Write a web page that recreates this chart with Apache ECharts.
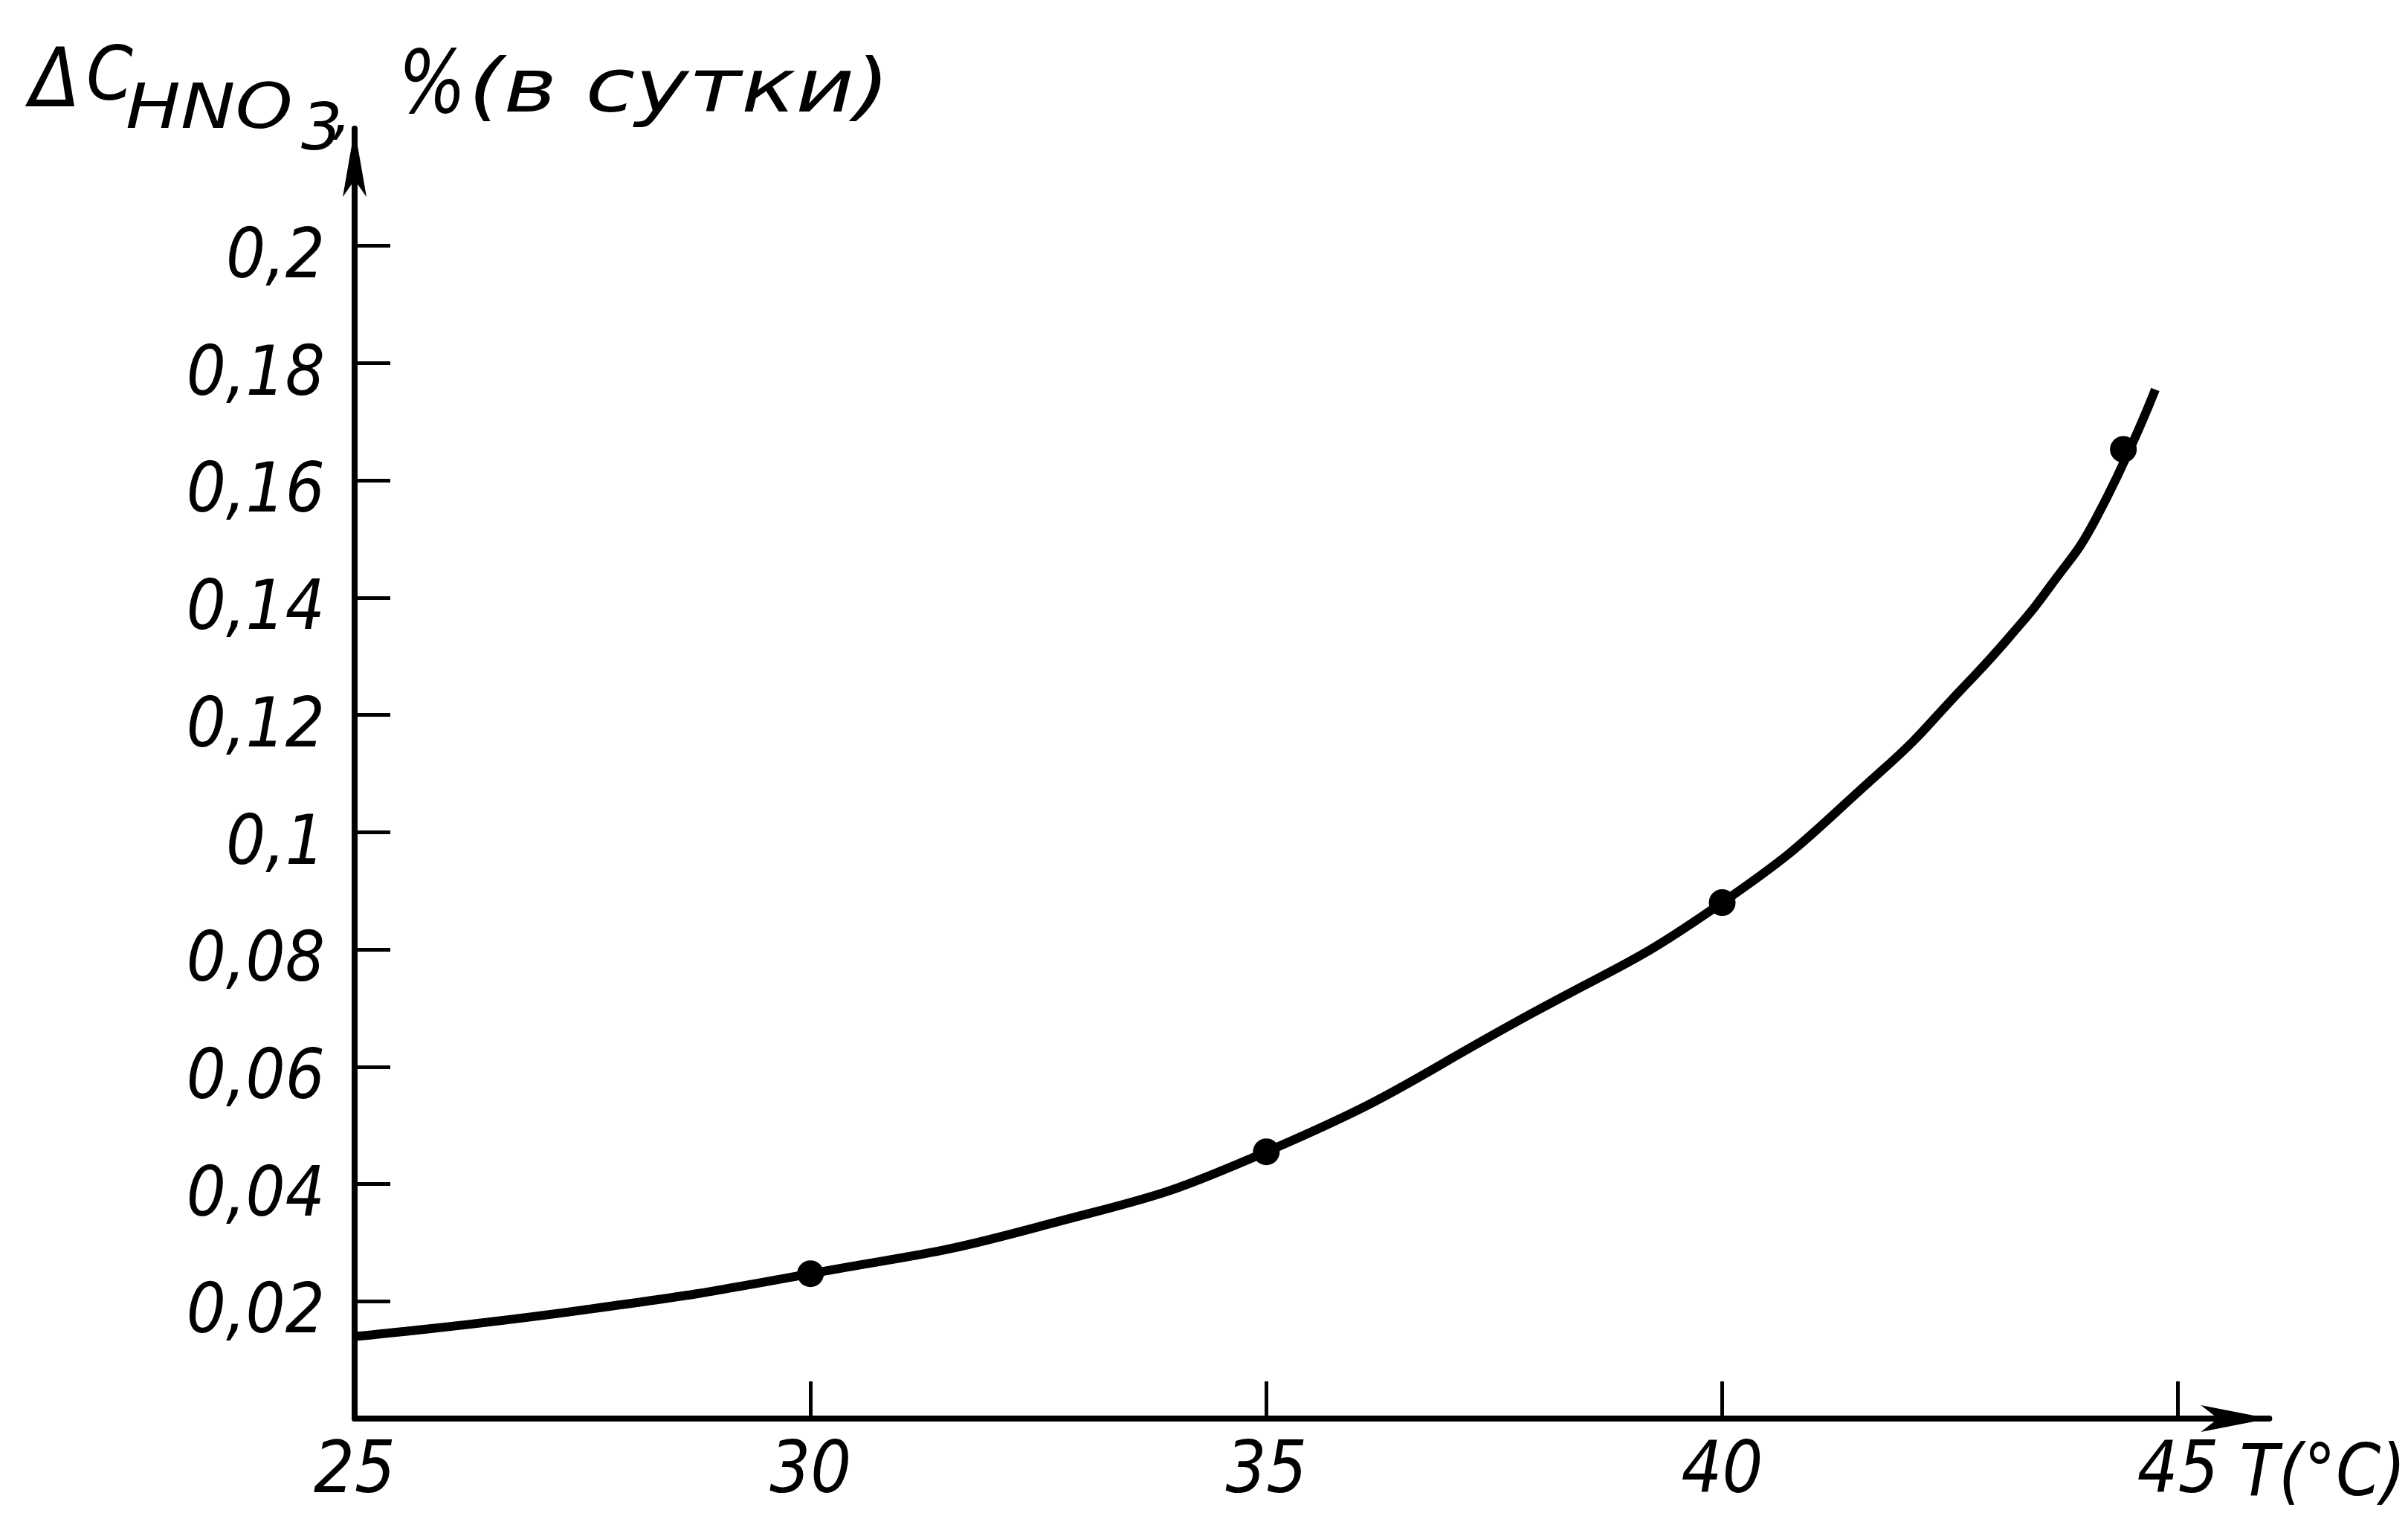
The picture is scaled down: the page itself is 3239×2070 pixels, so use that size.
<!DOCTYPE html>
<html>
<head>
<meta charset="utf-8">
<title>ΔC HNO3</title>
<script src="https://cdn.jsdelivr.net/npm/echarts@6/dist/echarts.min.js"></script>
<style>
  html, body { margin: 0; padding: 0; background: #fff; }
  #main { width: 3239px; height: 2070px; }
</style>
</head>
<body>
<div id="main"></div>
<script>
// values
let curveT = [25, 27.5, 30, 32.5, 35, 37.9, 40, 41.75, 42.65, 43.15, 43.6, 44.1, 44.75];
let curveV = [0.014, 0.0185, 0.0247, 0.0327, 0.0455, 0.069, 0.088, 0.1105, 0.1248, 0.1333, 0.142, 0.1535, 0.1755];
let pointT = [30, 35, 40, 44.4];
let pointV = [0.0247, 0.0455, 0.088, 0.1653];

// ticks / labels
let xTicks = [30, 35, 40, 45];
let xLabels = [25, 30, 35, 40, 45];
let yTicks = [0.02, 0.04, 0.06, 0.08, 0.1, 0.12, 0.14, 0.16, 0.18, 0.2];

const font = "'DejaVu Sans Condensed', 'DejaVu Sans', sans-serif";

let curve = curveT.map((t, i) => [t, curveV[i]]);
let points = pointT.map((t, i) => [t, pointV[i]]);

// pieces of the y axis name, placed like in the drawing
function piece(text, x, y, size, sx) {
  return {
    type: 'text',
    x: x,
    y: y,
    scaleX: sx,
    style: {
      text: text,
      x: 0,
      y: 0,
      fill: '#000',
      fontFamily: font,
      fontStyle: 'italic',
      fontSize: size,
      align: 'left',
      verticalAlign: 'middle'
    }
  };
}

let myChart = echarts.init(document.getElementById('main'));
myChart.setOption({
  animation: false,
  backgroundColor: '#fff',
  grid: { left: 477, right: 165, top: 173, bottom: 162 },
  xAxis: {
    type: 'value',
    min: 25,
    max: 46,
    name: 'T(°C)',
    nameLocation: 'end',
    nameGap: -40,
    nameTextStyle: {
      fontFamily: font, fontStyle: 'italic', fontSize: 96, color: '#000',
      align: 'left', verticalAlign: 'top', padding: [30, 0, 0, 0]
    },
    axisLine: {
      show: true,
      onZero: false,
      symbol: ['none', 'arrow'],
      symbolSize: [27, 92],
      lineStyle: { color: '#000', width: 8 }
    },
    axisTick: {
      show: true, inside: true, length: 50,
      customValues: xTicks,
      lineStyle: { color: '#000', width: 5 }
    },
    axisLabel: {
      customValues: xLabels,
      margin: 26,
      fontFamily: font, fontStyle: 'italic', fontSize: 96, color: '#000'
    },
    splitLine: { show: false }
  },
  yAxis: {
    type: 'value',
    min: 0,
    max: 0.22,
    axisLine: {
      show: true,
      onZero: false,
      symbol: ['none', 'arrow'],
      symbolSize: [24, 92],
      lineStyle: { color: '#000', width: 8 }
    },
    axisTick: {
      show: true, inside: true, length: 48,
      customValues: yTicks,
      lineStyle: { color: '#000', width: 5 }
    },
    axisLabel: {
      customValues: yTicks,
      margin: 40,
      verticalAlign: 'top',
      lineHeight: 36,
      fontFamily: font, fontStyle: 'italic', fontSize: 93, color: '#000',
      formatter: (v) => String(v).replace('.', ',')
    },
    splitLine: { show: false }
  },
  graphic: [
    piece('Δ', 40, 114, 110, 1),
    piece('C', 116, 108, 100, 1),
    piece('HNO', 169, 150, 84, 1.3),
    piece('3', 405, 178, 88, 1.1),
    piece(',', 448, 156, 84, 1),
    piece('%', 536, 120, 118, 0.9),
    piece('(в сутки)', 630, 124, 100, 1.35)
  ],
  series: [
    {
      type: 'line',
      data: curve,
      smooth: 0.5,
      symbol: 'none',
      lineStyle: { color: '#000', width: 12 }
    },
    {
      type: 'scatter',
      data: points,
      symbol: 'circle',
      symbolSize: 36,
      itemStyle: { color: '#000', opacity: 1 },
      z: 3
    }
  ]
});
</script>
</body>
</html>
